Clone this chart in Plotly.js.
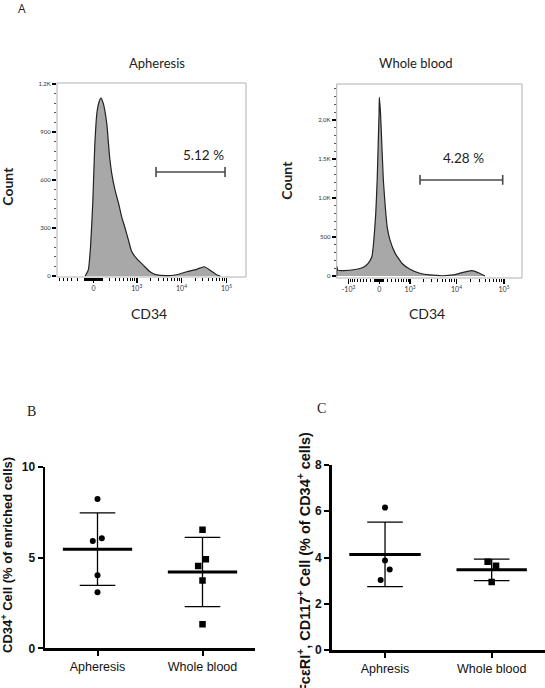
<!DOCTYPE html>
<html>
<head>
<meta charset="utf-8">
<script src="https://cdn.plot.ly/plotly-3.0.1.min.js"></script>
<style>html,body{margin:0;padding:0;background:#fff;}#chart{width:545px;height:688px;}</style>
</head>
<body>
<div id="chart"></div>
<script>
// ---------- DATA ----------
// Panel A: CD34 histograms (x in display-scale units, y = event count)
const apheresisHistX = [1.86,1.93,1.98,2.03,2.07,2.12,2.17,2.21,2.26,2.34,2.40,2.45,2.52,2.60,2.67,2.74,2.82,2.89,3.00,3.15,3.30,3.45,3.67,3.89,4.12,4.34,4.50,4.63,4.78,4.86];
const apheresisHistY = [0,40,190,470,800,1020,1090,1112,1080,950,750,640,540,455,370,305,225,155,110,68,27,7,2,8,27,42,58,38,8,0];
const wholeBloodHistX = [1.478,1.48,1.50,1.62,1.90,2.04,2.14,2.22,2.26,2.30,2.33,2.35,2.37,2.375,2.40,2.43,2.46,2.50,2.54,2.60,2.71,2.85,3.02,3.23,3.44,3.72,3.93,4.14,4.32,4.46,4.60];
const wholeBloodHistY = [0,120,75,68,86,111,163,250,460,800,1230,1660,2090,2290,2090,1660,1230,890,630,460,290,163,86,35,13,3,13,47,68,42,0];
const histTitles = ["Apheresis", "Whole blood"];
const gateLabels = ["5.12 %", "4.28 %"];
const apheresisGate = [3.433, 4.967];
const wholeBloodGate = [3.232, 4.973];
const apheresisYTicks = [0, 300, 600, 900, 1200];
const apheresisYText = ["0", "300", "600", "900", "1.2K"];
const wholeBloodYTicks = [0, 500, 1000, 1500, 2000];
const wholeBloodYText = ["0", "500", "1.0K", "1.5K", "2.0K"];

// Panel B: CD34+ cells (% of enriched cells)
const catsB = ["Apheresis", "Whole blood"];
const bApheresis = [8.22, 5.91, 6.06, 4.02, 3.08];
const bApheresisJitter = [0, -0.045, 0.041, 0, 0];
const bWholeBlood = [6.53, 4.90, 4.53, 3.74, 1.32];
const bWholeBloodJitter = [0, 0.032, -0.041, 0, 0];

// Panel C: FceRI+, CD117+ cells (% of CD34+ cells)
const catsC = ["Aphresis", "Whole blood"];
const cApheresis = [6.16, 3.87, 3.48, 3.03];
const cApheresisJitter = [0, 0, 0.044, -0.041];
const cWholeBlood = [3.82, 3.64, 2.94];
const cWholeBloodJitter = [-0.038, 0.041, 0];

// ---------- HELPERS ----------
const W = 545, H = 688;
const fx = p => p / W;
const fy = p => 1 - p / H;
const mean = a => a.reduce((s, v) => s + v, 0) / a.length;
const sd = a => { const m = mean(a); return Math.sqrt(a.reduce((s, v) => s + (v - m) * (v - m), 0) / (a.length - 1)); };
// biexponential-like display transform
const tr = (v, c) => Math.asinh(v / (2 * c)) / Math.LN10 + Math.log10(c);
function minorVals(c, lo, hi) {
  const vals = [];
  for (let v = -900; v <= -100; v += 100) vals.push(v);
  for (let v = -90; v <= 90; v += 10) if (v !== 0) vals.push(v);
  for (let v = 100; v <= 900; v += 100) vals.push(v);
  for (let v = 2000; v <= 9000; v += 1000) vals.push(v);
  for (let v = 20000; v <= 90000; v += 10000) vals.push(v);
  return vals.map(v => tr(v, c)).filter(u => u > lo && u < hi);
}

const fontA = "Lato, 'Open Sans', sans-serif";
const fontNarrow = "'Liberation Sans Narrow', 'Arial Narrow', 'Liberation Sans', sans-serif";
const fontBold = "'Liberation Sans', Arial, sans-serif";

const cA1 = 110.7, cA2 = 237;
const rA1 = [1.233, 5.433], rA2 = [1.478, 5.379];

const traces = [];
// Histograms
traces.push({x: apheresisHistX, y: apheresisHistY, xaxis: 'x', yaxis: 'y', type: 'scatter', mode: 'lines',
  line: {color: '#222', width: 1.2, shape: 'spline', smoothing: 0.5}, fill: 'tozeroy', fillcolor: '#a8a8a8', hoverinfo: 'skip'});
traces.push({x: wholeBloodHistX, y: wholeBloodHistY, xaxis: 'x2', yaxis: 'y2', type: 'scatter', mode: 'lines',
  line: {color: '#222', width: 1.2, shape: 'spline', smoothing: 0.4}, fill: 'tozeroy', fillcolor: '#a8a8a8', hoverinfo: 'skip'});
// Gates
const gateStyle = {mode: 'lines+markers', line: {color: '#4a4a4a', width: 1.6},
  marker: {symbol: 'line-ns', size: 7, line: {width: 1.6, color: '#4a4a4a'}}, hoverinfo: 'skip'};
traces.push(Object.assign({x: apheresisGate, y: [650, 650], xaxis: 'x', yaxis: 'y', type: 'scatter'}, gateStyle));
traces.push(Object.assign({x: wholeBloodGate, y: [1231, 1231], xaxis: 'x2', yaxis: 'y2', type: 'scatter'}, gateStyle));

// Dot plots
function group(vals, jit, idx, symbol, xa, ya, halfMean, msize) {
  const m = mean(vals), s = sd(vals);
  traces.push({x: vals.map((v, i) => idx + jit[i]), y: vals, xaxis: xa, yaxis: ya, type: 'scatter', mode: 'markers',
    marker: {symbol: symbol, size: msize, color: '#000'}, hoverinfo: 'skip'});
  traces.push({x: [idx], y: [m], xaxis: xa, yaxis: ya, type: 'scatter', mode: 'markers',
    marker: {size: 0.1, color: 'rgba(0,0,0,0)'},
    error_y: {type: 'data', array: [s], arrayminus: [s], symmetric: false, color: '#000', thickness: 1.3, width: 17.8}, hoverinfo: 'skip'});
  traces.push({x: [idx - halfMean, idx + halfMean], y: [m, m], xaxis: xa, yaxis: ya, type: 'scatter', mode: 'lines',
    line: {color: '#000', width: 3}, hoverinfo: 'skip'});
}
group(bApheresis, bApheresisJitter, 0, 'circle', 'x3', 'y3', 0.33, 6);
group(bWholeBlood, bWholeBloodJitter, 1, 'square', 'x3', 'y3', 0.33, 6.5);
group(cApheresis, cApheresisJitter, 0, 'circle', 'x4', 'y4', 0.335, 6);
group(cWholeBlood, cWholeBloodJitter, 1, 'square', 'x4', 'y4', 0.33, 6.5);

const histX = (dom, rng, c, vals, texts) => ({
  domain: dom, range: rng, tickmode: 'array', tickvals: vals.map(v => tr(v, c)), ticktext: texts,
  ticks: 'outside', ticklen: 5, tickwidth: 1.5, tickcolor: '#000', showline: false, zeroline: false, showgrid: false,
  tickfont: {family: fontA, size: 7, color: '#333'},
  minor: {tickmode: 'array', tickvals: minorVals(c, rng[0], rng[1]), ticks: 'outside', ticklen: 3, tickwidth: 1, tickcolor: '#000', showgrid: false}
});
const histY = (dom, rng, vals, texts, mdt) => ({
  domain: dom, range: rng, tickmode: 'array', tickvals: vals, ticktext: texts,
  ticks: 'outside', ticklen: 4, tickwidth: 1.2, tickcolor: '#000', showline: false, zeroline: false, showgrid: false,
  tickfont: {family: fontA, size: 6, color: '#333'},
  minor: {dtick: mdt, tick0: 0, ticks: 'outside', ticklen: 2, tickwidth: 1, tickcolor: '#555', showgrid: false}
});
const dotX = (dom, cats, anchor) => ({
  domain: dom, range: [-0.5, 1.5], tickmode: 'array', tickvals: [0, 1], ticktext: cats, anchor: anchor,
  ticks: 'outside', ticklen: 5, tickwidth: 2, tickcolor: '#000', showline: true, linewidth: 2.5, linecolor: '#000',
  zeroline: false, showgrid: false, tickfont: {family: fontNarrow, size: 12.5, color: '#111'}
});
const dotY = (dom, rng, vals, anchor) => ({
  domain: dom, range: rng, tickmode: 'array', tickvals: vals, anchor: anchor,
  ticks: 'outside', ticklen: 5, tickwidth: 2, tickcolor: '#000', showline: true, linewidth: 2.5, linecolor: '#000',
  zeroline: false, showgrid: false, tickfont: {family: fontNarrow, size: 12, color: '#111', weight: 'bold'}
});

const ann = (text, x, y, size, family, extra) => Object.assign({text, x: fx(x), y: fy(y), xref: 'paper', yref: 'paper',
  showarrow: false, xanchor: 'center', yanchor: 'middle', font: {family, size, color: '#222'}}, extra || {});

const layout = {
  width: W, height: H, margin: {l: 0, r: 0, t: 0, b: 0}, showlegend: false,
  paper_bgcolor: '#fff', plot_bgcolor: 'rgba(0,0,0,0)',
  xaxis: Object.assign(histX([fx(57), fx(246)], rA1, cA1, [0, 1e3, 1e4, 1e5], ["0", "10<sup>3</sup>", "10<sup>4</sup>", "10<sup>5</sup>"]), {anchor: 'y'}),
  yaxis: Object.assign(histY([fy(277), fy(83)], [-6, 1206], apheresisYTicks, apheresisYText, 60), {anchor: 'x'}),
  xaxis2: Object.assign(histX([fx(336.7), fx(522)], rA2, cA2, [-1e3, 0, 1e3, 1e4, 1e5], ["-10<sup>3</sup>", "0", "10<sup>3</sup>", "10<sup>4</sup>", "10<sup>5</sup>"]), {anchor: 'y2'}),
  yaxis2: Object.assign(histY([fy(278), fy(84)], [-26, 2461], wholeBloodYTicks, wholeBloodYText, 100), {anchor: 'x2'}),
  xaxis3: dotX([fx(45), fx(255)], catsB, 'y3'),
  yaxis3: dotY([fy(648.3), fy(466.7)], [0, 10], [0, 5, 10], 'x3'),
  xaxis4: dotX([fx(331.7), 1.0], catsC, 'y4'),
  yaxis4: dotY([fy(650), fy(465)], [0, 8], [0, 2, 4, 6, 8], 'x4'),
  shapes: [
    {type: 'rect', xref: 'x domain', yref: 'y domain', x0: 0, x1: 1, y0: 0, y1: 1, line: {color: '#b0b0b0', width: 1}, layer: 'below'},
    {type: 'rect', xref: 'x2 domain', yref: 'y2 domain', x0: 0, x1: 1, y0: 0, y1: 1, line: {color: '#b0b0b0', width: 1}, layer: 'below'}
  ],
  annotations: [
    ann('A', 22, 8, 12, "'Open Sans', sans-serif"),
    ann(histTitles[0], 157, 63, 13, fontA),
    ann(histTitles[1], 415.7, 63, 13, fontA),
    ann('Count', 8, 186.7, 14, fontA, {textangle: -90, font: {family: fontA, size: 14, color: '#222', weight: 'bold'}}),
    ann('Count', 285.7, 180, 14, fontA, {textangle: -90, font: {family: fontA, size: 14, color: '#222', weight: 'bold'}}),
    ann('CD34', 149, 313, 14, fontA),
    ann('CD34', 427, 313, 14, fontA),
    {text: gateLabels[0], x: 4.478, y: 756, xref: 'x', yref: 'y', showarrow: false, xanchor: 'center', yanchor: 'middle', font: {family: fontA, size: 13.5, color: '#222'}},
    {text: gateLabels[1], x: 4.143, y: 1513, xref: 'x2', yref: 'y2', showarrow: false, xanchor: 'center', yanchor: 'middle', font: {family: fontA, size: 13.5, color: '#222'}},
    ann('B', 31.7, 411.7, 14, "'Liberation Serif', serif"),
    ann('C', 321.7, 408, 14, "'Liberation Serif', serif"),
    ann('CD34<sup>+</sup> Cell (% of enriched cells)', 7, 555, 13, fontBold, {textangle: -90, font: {family: fontBold, size: 13, color: '#111', weight: 'bold'}}),
    ann('FcεRI<sup>+</sup>, CD117<sup>+</sup> Cell (% of CD34<sup>+</sup> cells)', 304, 563, 14.5, fontBold, {textangle: -90, font: {family: fontBold, size: 14.5, color: '#111', weight: 'bold'}})
  ]
};

Plotly.newPlot('chart', traces, layout, {staticPlot: true, displayModeBar: false});
</script>
</body>
</html>
